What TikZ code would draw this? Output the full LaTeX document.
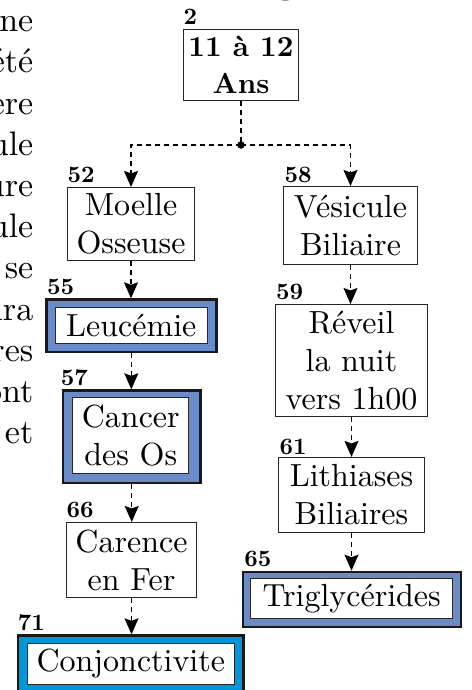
\documentclass[tikz,border=0pt]{standalone}
\usepackage{fontspec}
\setmainfont{lmroman10-regular}[Extension=.otf, BoldFont=lmroman10-bold]
\usetikzlibrary{arrows.meta}
\definecolor{boxblue}{RGB}{106,138,200}
\definecolor{conjblue}{RGB}{0,150,215}
\newcommand\sidefont{\fontsize{34}{40}\selectfont}
\tikzset{
  plainbox/.style={draw=black!85, line width=1.1pt, fill=white, inner sep=0pt, align=center, font=\fontsize{32}{38}\selectfont},
  outerbox/.style={draw=black!90, line width=2.6pt, fill=#1, inner sep=0pt},
  numlabel/.style={font=\bfseries\fontsize{23.5}{23.5}\selectfont, inner sep=0pt, anchor=base west},
  sidetext/.style={font=\sidefont, inner sep=0pt, anchor=base east},
  link/.style={dash pattern=on 5pt off 4pt, line width=1.1pt},
  conn/.style={link, -{Stealth[length=16pt,width=14pt,inset=2.5pt]}},
}
\begin{document}
\begin{tikzpicture}[x=1pt,y=-1pt]
\useasboundingbox (0,0) rectangle (471,690);
\fill[white] (0,0) rectangle (471,690);
\clip (0,0) rectangle (471,690);

% cut-off title and margin text
\node[font=\bfseries\fontsize{42}{42}\selectfont, inner sep=0pt, anchor=base] (title) at (242,1) {TABLEAU 4.III};
\node[sidetext] (s0) at (33.5,32) {\sidefont ne};
\node[sidetext] (s1) at (33.5,73) {\sidefont \'et\'e};
\node[sidetext] (s2) at (33.5,114) {\sidefont \`ere};
\node[sidetext] (s3) at (33.5,155) {\sidefont ule};
\node[sidetext] (s4) at (33.5,196) {\sidefont ure};
\node[sidetext] (s5) at (33.5,237.5) {\sidefont ule};
\node[sidetext] (s6) at (33.5,278.5) {\sidefont se};
\node[sidetext] (s7) at (33.5,320) {\sidefont ira};
\node[sidetext] (s8) at (33.5,361) {\sidefont res};
\node[sidetext] (s9) at (33.5,402) {\sidefont ont};
\node[sidetext] (s10) at (33.5,443) {\sidefont et};

% boxes
\node[plainbox, font=\bfseries\fontsize{29}{37}\selectfont, minimum width=115pt, minimum height=71pt] (age) at (241,65) {11 \`a 12\\Ans};
\node[plainbox, minimum width=127pt, minimum height=73pt] (moelle) at (131,224) {Moelle\\Osseuse};

\node[outerbox=boxblue, minimum width=170pt, minimum height=52.4pt] (leuO) at (131.3,325.8) {};
\node[plainbox, minimum width=151.6pt, minimum height=36.2pt] (leu) at (131.3,325.3) {Leuc\'emie};

\node[outerbox=boxblue, minimum width=137.4pt, minimum height=92.4pt] (canO) at (131.7,436.8) {};
\node[plainbox, minimum width=116pt, minimum height=75.6pt] (can) at (130.8,435.6) {Cancer\\des Os};

\node[plainbox, minimum width=130pt, minimum height=75pt] (car) at (131.5,560) {Carence\\en Fer};

\node[outerbox=conjblue, minimum width=225.7pt, minimum height=57.4pt] (conO) at (130.9,664.3) {};
\node[plainbox, minimum width=207.2pt, minimum height=41.2pt] (con) at (130.8,663.8) {Conjonctivite};

\node[plainbox, minimum width=134pt, minimum height=78pt] (ves) at (350.5,225.5) {V\'esicule\\Biliaire};
\node[plainbox, minimum width=152pt, minimum height=112pt] (rev) at (351.5,360.5) {R\'eveil\\la nuit\\vers 1h00};
\node[plainbox, minimum width=146pt, minimum height=75pt] (lit) at (351.5,495) {Lithiases\\Biliaires};

\node[outerbox=boxblue, minimum width=218pt, minimum height=55pt] (triO) at (352,599.5) {};
\node[plainbox, minimum width=202.2pt, minimum height=40pt] (tri) at (351.7,598.8) {Triglyc\'erides};

% number labels
\node[numlabel] (n2)  at ([xshift=0.5pt,yshift=4pt]age.north west) {2};
\node[numlabel] (n52) at ([xshift=0.5pt,yshift=4pt]moelle.north west) {52};
\node[numlabel] (n55) at ([xshift=2pt,yshift=4pt]leuO.north west) {55};
\node[numlabel] (n57) at ([xshift=-1pt,yshift=4pt]canO.north west) {57};
\node[numlabel] (n66) at ([xshift=0.5pt,yshift=4pt]car.north west) {66};
\node[numlabel] (n71) at ([xshift=1pt,yshift=4pt]conO.north west) {71};
\node[numlabel] (n58) at ([xshift=1.5pt,yshift=3.5pt]ves.north west) {58};
\node[numlabel] (n59) at ([xshift=1pt,yshift=4pt]rev.north west) {59};
\node[numlabel] (n61) at ([xshift=1.5pt,yshift=2.5pt]lit.north west) {61};
\node[numlabel] (n65) at ([xshift=2.5pt,yshift=4pt]triO.north west) {65};

% connectors
\node[circle, fill=black, inner sep=0pt, minimum size=7.5pt] (dot) at (241,145) {};
\draw[link] (age.south) -- (dot.center);
\draw[conn] (dot.center) -| (moelle.north);
\draw[conn] (dot.center) -| (ves.north);
\draw[conn] (moelle.south) -- (moelle.south |- leuO.north);
\draw[conn] (leuO.south) -- (leuO.south |- canO.north);
\draw[conn] (canO.south) -- (canO.south |- car.north);
\draw[conn] (car.south) -- (car.south |- conO.north);
\draw[conn] (ves.south) -- (ves.south |- rev.north);
\draw[conn] (rev.south) -- (rev.south |- lit.north);
\draw[conn] (lit.south) -- (lit.south |- triO.north);
\end{tikzpicture}
\end{document}
